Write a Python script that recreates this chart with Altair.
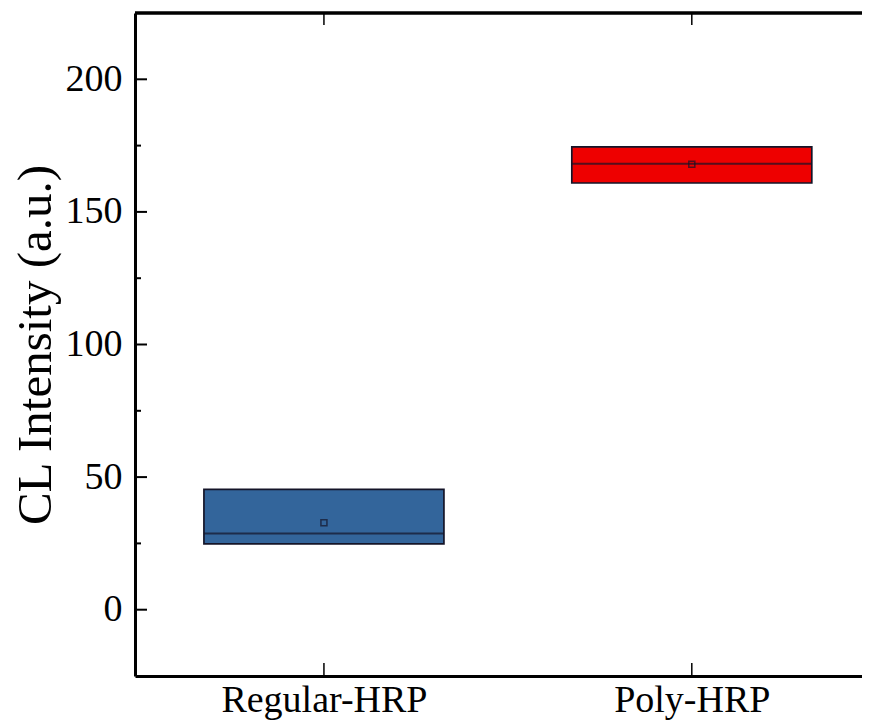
import altair as alt
import pandas as pd

categories = ["Regular-HRP", "Poly-HRP"]
positions = [1, 2]
q1 = [24.8, 160.9]
q3 = [45.4, 174.5]
median = [28.7, 168.2]
mean = [32.8, 168.0]
colors = ["#33659b", "#ee0000"]
y_major = [0, 50, 100, 150, 200]
y_minor = [25, 75, 125, 175]

W, H = 727, 663
PX_PER_UNIT = 373

df = pd.DataFrame(dict(cat=categories, pos=positions, q1=q1, q3=q3,
                       median=median, mean=mean, color=colors))
major_df = pd.DataFrame(dict(v=y_major))
minor_df = pd.DataFrame(dict(v=y_minor))

xscale = alt.Scale(domain=[0.5, 0.5 + W / PX_PER_UNIT], nice=False, zero=False)
yscale = alt.Scale(domain=[-25, 225], nice=False, zero=False)
label_list = "[" + ",".join("'%s'" % c for c in categories) + "]"

x_axis = alt.Axis(values=positions, labelExpr=label_list + "[datum.value - 1]",
                  labelFontSize=38, labelPadding=5, ticks=False, labelLimit=0)
y_axis = alt.Axis(values=y_major, labelFontSize=38, labelPadding=13, ticks=False,
                  titleFontSize=49, titlePadding=5)
YTITLE = "CL Intensity (a.u.)"


def xe(field):
    return alt.X(field, scale=xscale, title=None, axis=x_axis)


def ye(field):
    return alt.Y(field, scale=yscale, title=YTITLE, axis=y_axis)


dark = "#141428"

boxes = alt.Chart(df).mark_bar(size=240, stroke=dark, strokeWidth=1.7).encode(
    x=xe("pos:Q"), y=ye("q1:Q"), y2="q3:Q", color=alt.Color("color:N", scale=None))

med = alt.Chart(df).mark_tick(orient="horizontal", size=240, thickness=2, color=dark).encode(
    x=xe("pos:Q"), y=ye("median:Q"))

mn = alt.Chart(df).mark_square(filled=False, size=36, stroke=dark, strokeWidth=1.5).encode(
    x=xe("pos:Q"), y=ye("mean:Q"))

maj = alt.Chart(major_df).mark_rule(color="black", strokeWidth=2).encode(
    y=ye("v:Q"), x=alt.value(0), x2=alt.value(12))
mnr = alt.Chart(minor_df).mark_rule(color="black", strokeWidth=2).encode(
    y=ye("v:Q"), x=alt.value(0), x2=alt.value(6))
xt_bottom = alt.Chart(df).mark_rule(color="black", strokeWidth=1.5).encode(
    x=xe("pos:Q"), y=alt.value(H), y2=alt.value(H - 13))
xt_top = alt.Chart(df).mark_rule(color="black", strokeWidth=1.5).encode(
    x=xe("pos:Q"), y=alt.value(0), y2=alt.value(12))
top_frame = alt.Chart(df).mark_rule(color="black", strokeWidth=3).encode(
    x=alt.value(0), x2=alt.value(W), y=alt.value(0))

chart = alt.layer(boxes, med, mn, maj, mnr, xt_bottom, xt_top, top_frame).properties(
    width=W, height=H,
    autosize=alt.AutoSizeParams(type="none"),
    padding={"left": 127, "top": 5, "right": 0, "bottom": 44},
).configure_view(stroke=None).configure_axis(
    labelFont="Liberation Serif", titleFont="Liberation Serif", grid=False,
    domainColor="black", domainWidth=3, labelColor="black", titleColor="black",
    titleFontWeight="normal")

chart.save("out.html", embed_options={"renderer": "svg", "actions": False})
